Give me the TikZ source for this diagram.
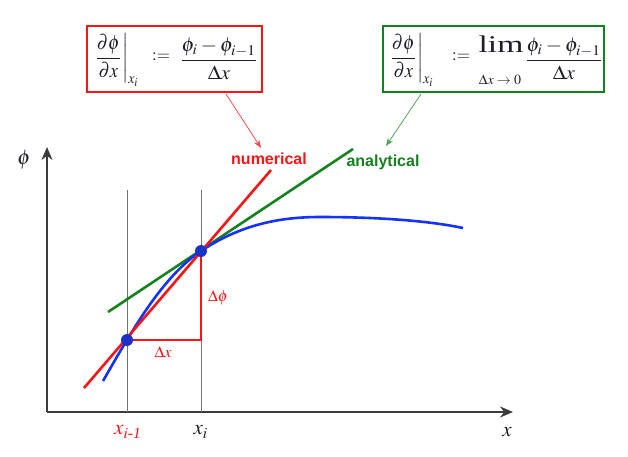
\documentclass[tikz,border=0pt]{standalone}
\usepackage{amsmath}
\usepackage{mathptmx}
\usepackage{fontspec}
\setmainfont{Liberation Serif}
\newfontfamily\labelsans{Liberation Sans}
\usetikzlibrary{arrows.meta}
\definecolor{cred}{RGB}{250,20,20}
\definecolor{cgreen}{RGB}{20,130,30}
\definecolor{cblue}{RGB}{20,50,250}
\definecolor{cdot}{RGB}{30,50,200}
\definecolor{caxis}{RGB}{60,60,60}
\definecolor{ctext}{RGB}{30,30,40}
\tikzset{
  axisline/.style={draw=caxis,line width=1.8pt,-{Stealth[length=13pt,width=11pt]}},
  guide/.style={draw=gray!90!black,line width=0.9pt},
  curve/.style={line width=2.6pt},
  dotmark/.style={circle,fill=cdot,minimum width=12pt,minimum height=11pt,inner sep=0pt},
  formbox/.style={draw,line width=1.2pt,inner sep=0pt,minimum height=66pt},
  formpart/.style={inner sep=0pt,text=ctext,xscale=2.1,yscale=2.0},
  derivpart/.style={inner sep=0pt,text=ctext,xscale=1.85,yscale=2.05,anchor=west},
  defsign/.style={inner sep=0pt,text=ctext,scale=1.7},
  pointer/.style={line width=0.7pt,-{Stealth[length=8pt,width=6pt]}},
  curvelabel/.style={font=\labelsans\bfseries\fontsize{16}{18}\selectfont},
  axlabel/.style={inner sep=0pt,scale=2.1},
  smalllabel/.style={inner sep=0pt,scale=1.6,text=cred},
}
\begin{document}
\begin{tikzpicture}[x=1pt,y=-1pt]
\useasboundingbox (0,0) rectangle (628,456);
% axes
\coordinate (o) at (47,412);
\coordinate (ytip) at (47,147);
\coordinate (xtip) at (513,412);
\draw[axisline] (o) -- (ytip);
\draw[axisline] (o) -- (xtip);
\node[axlabel,text=ctext] (philab) at (24,160) {$\phi$};
\node[axlabel,text=ctext] (xlab) at (507,432) {$x$};
% guide lines
\coordinate (g1t) at (127,190);
\coordinate (g1b) at (127,412);
\coordinate (g2t) at (201,190);
\coordinate (g2b) at (201,412);
\draw[guide] (g1t) -- (g1b);
\draw[guide] (g2t) -- (g2b);
% points
\coordinate (p1) at (127,340);
\coordinate (p2) at (201,251);
\coordinate (pc) at (201,340);
% triangle
\draw[cred,line width=1.1pt] (p1) -- (pc) -- (p2);
\node[smalllabel] (dx) at (163,352) {$\Delta x$};
\node[smalllabel] (dphi) at (218,298) {$\Delta\phi$};
% green tangent
\coordinate (gs) at (108,312);
\coordinate (ge) at (353,149);
\draw[curve,cgreen] (gs) -- (ge);
% blue curve
\draw[curve,cblue] (103,381) .. controls (111,367) and (119,353) .. (p1)
  .. controls (152,298) and (176,267.6) .. (p2)
  .. controls (241,224.4) and (280,217) .. (320,217)
  .. controls (380,217) and (430,221) .. (463,228);
% red secant
\coordinate (rs) at (84,388);
\coordinate (re) at (271,170);
\draw[curve,cred] (rs) -- (re);
% dots
\node[dotmark] (d1) at (p1) {};
\node[dotmark] (d2) at (p2) {};
% axis tick labels
\node[axlabel,text=cred] (xim1) at (128,432) {$x_{\mathit{i}\text{\itshape -1}}$};
\node[axlabel,text=ctext] (xi) at (201,432) {$x_i$};
% curve labels
\node[curvelabel,text=cred] (num) at (269,159) {numerical};
\node[curvelabel,text=cgreen] (ana) at (383,162) {analytical};
% red formula box
\node[formbox,draw=cred,minimum width=175pt] (rbox) at (174.5,59) {};
\node[derivpart] (rl) at (92,60) {$\left.\dfrac{\partial\phi}{\partial x}\right|_{x_i}$};
\node[defsign] (rdef) at (161,57) {$:=$};
\node[formpart] (rr) at (219,59) {$\dfrac{\phi_i-\phi_{i-1}}{\Delta x}$};
% green formula box
\node[formbox,draw=cgreen,minimum width=221pt] (gbox) at (493.5,59) {};
\node[derivpart] (gl) at (387,60) {$\left.\dfrac{\partial\phi}{\partial x}\right|_{x_i}$};
\node[defsign] (gdef) at (461,57) {$:=$};
\node[inner sep=0pt,text=ctext,font=\fontsize{24}{24}\selectfont,xscale=1.4,anchor=base] (lim) at (501,52) {lim};
\node[inner sep=0pt,text=ctext,scale=1.4] (limsub) at (500,80) {$\Delta x\to 0$};
\node[formpart] (gr) at (564,59) {$\dfrac{\phi_i-\phi_{i-1}}{\Delta x}$};
% pointers
\coordinate (ra) at (226,94);
\coordinate (rt) at (261,148);
\coordinate (ga) at (421,94);
\coordinate (gt) at (386,146);
\draw[pointer,draw=cred!80,fill=cred!80] (ra) -- (rt);
\draw[pointer,draw=cgreen!75,fill=cgreen!75] (ga) -- (gt);
\end{tikzpicture}
\end{document}
